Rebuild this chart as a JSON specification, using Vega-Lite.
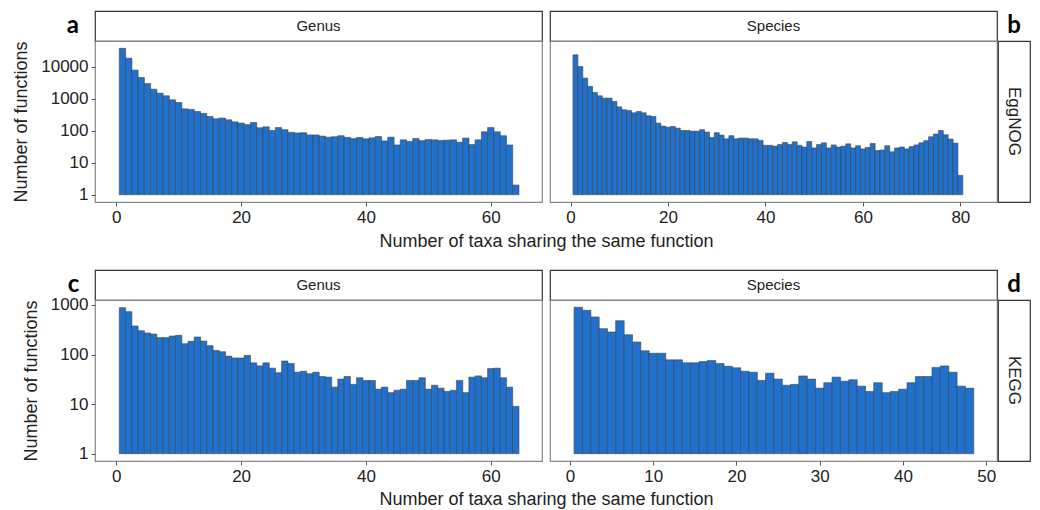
{
  "$schema": "https://vega.github.io/schema/vega-lite/v6.json",
  "padding": {"left": 12, "top": 10, "right": 5, "bottom": 5},
  "background": "white",
  "datasets": {
    "eg_genus": [
      {"n":1,"count":38000},{"n":2,"count":18700},{"n":3,"count":7900},{"n":4,"count":4640},{"n":5,"count":3000},{"n":6,"count":2000},{"n":7,"count":1500},{"n":8,"count":1240},{"n":9,"count":930},{"n":10,"count":765},
      {"n":11,"count":485},{"n":12,"count":465},{"n":13,"count":400},{"n":14,"count":350},{"n":15,"count":280},{"n":16,"count":237},{"n":17,"count":250},{"n":18,"count":220},{"n":19,"count":190},{"n":20,"count":174},
      {"n":21,"count":155},{"n":22,"count":181},{"n":23,"count":124},{"n":24,"count":133},{"n":25,"count":102},{"n":26,"count":126},{"n":27,"count":108},{"n":28,"count":89},{"n":29,"count":85},{"n":30,"count":87},
      {"n":31,"count":74},{"n":32,"count":74},{"n":33,"count":68},{"n":34,"count":63},{"n":35,"count":65},{"n":36,"count":70},{"n":37,"count":62},{"n":38,"count":57},{"n":39,"count":62},{"n":40,"count":56},
      {"n":41,"count":60},{"n":42,"count":66},{"n":43,"count":48},{"n":44,"count":63},{"n":45,"count":36},{"n":46,"count":52},{"n":47,"count":46},{"n":48,"count":57},{"n":49,"count":49},{"n":50,"count":53},
      {"n":51,"count":52},{"n":52,"count":50},{"n":53,"count":51},{"n":54,"count":52},{"n":55,"count":44},{"n":56,"count":59},{"n":57,"count":37},{"n":58,"count":52},{"n":59,"count":93},{"n":60,"count":126},
      {"n":61,"count":93},{"n":62,"count":70},{"n":63,"count":36},{"n":64,"count":2}
    ],
    "eg_species": [
      {"n":1,"count":23700},{"n":2,"count":10200},{"n":3,"count":4450},{"n":4,"count":2430},{"n":5,"count":1580},{"n":6,"count":1240},{"n":7,"count":1050},{"n":8,"count":1050},{"n":9,"count":825},{"n":10,"count":560},
      {"n":11,"count":454},{"n":12,"count":430},{"n":13,"count":365},{"n":14,"count":400},{"n":15,"count":365},{"n":16,"count":295},{"n":17,"count":280},{"n":18,"count":174},{"n":19,"count":140},{"n":20,"count":130},
      {"n":21,"count":136},{"n":22,"count":121},{"n":23,"count":102},{"n":24,"count":102},{"n":25,"count":97},{"n":26,"count":97},{"n":27,"count":108},{"n":28,"count":91},{"n":29,"count":62},{"n":30,"count":87},
      {"n":31,"count":73},{"n":32,"count":56},{"n":33,"count":70},{"n":34,"count":56},{"n":35,"count":59},{"n":36,"count":59},{"n":37,"count":56},{"n":38,"count":56},{"n":39,"count":50},{"n":40,"count":35},
      {"n":41,"count":35},{"n":42,"count":33},{"n":43,"count":37},{"n":44,"count":43},{"n":45,"count":37},{"n":46,"count":45},{"n":47,"count":35},{"n":48,"count":31},{"n":49,"count":46},{"n":50,"count":29},
      {"n":51,"count":37},{"n":52,"count":42},{"n":53,"count":29},{"n":54,"count":36},{"n":55,"count":31},{"n":56,"count":33},{"n":57,"count":39},{"n":58,"count":29},{"n":59,"count":34},{"n":60,"count":27},
      {"n":61,"count":30},{"n":62,"count":40},{"n":63,"count":24},{"n":64,"count":25},{"n":65,"count":34},{"n":66,"count":22},{"n":67,"count":29},{"n":68,"count":31},{"n":69,"count":27},{"n":70,"count":32},
      {"n":71,"count":36},{"n":72,"count":42},{"n":73,"count":49},{"n":74,"count":65},{"n":75,"count":79},{"n":76,"count":102},{"n":77,"count":75},{"n":78,"count":55},{"n":79,"count":41},{"n":80,"count":4}
    ],
    "kegg_genus": [
      {"n":1,"count":881},{"n":2,"count":733},{"n":3,"count":377},{"n":4,"count":302},{"n":5,"count":272},{"n":6,"count":259},{"n":7,"count":219},{"n":8,"count":219},{"n":9,"count":236},{"n":10,"count":244},
      {"n":11,"count":165},{"n":12,"count":185},{"n":13,"count":226},{"n":14,"count":187},{"n":15,"count":151},{"n":16,"count":121},{"n":17,"count":114},{"n":18,"count":93},{"n":19,"count":85},{"n":20,"count":85},
      {"n":21,"count":96},{"n":22,"count":68},{"n":23,"count":59},{"n":24,"count":68},{"n":25,"count":53},{"n":26,"count":43},{"n":27,"count":74},{"n":28,"count":66},{"n":29,"count":44},{"n":30,"count":46},
      {"n":31,"count":41},{"n":32,"count":44},{"n":33,"count":36},{"n":34,"count":35},{"n":35,"count":22},{"n":36,"count":32},{"n":37,"count":36},{"n":38,"count":25},{"n":39,"count":34},{"n":40,"count":30},
      {"n":41,"count":30},{"n":42,"count":20},{"n":43,"count":22},{"n":44,"count":17},{"n":45,"count":19},{"n":46,"count":20},{"n":47,"count":30},{"n":48,"count":30},{"n":49,"count":34},{"n":50,"count":20},
      {"n":51,"count":24},{"n":52,"count":21},{"n":53,"count":18},{"n":54,"count":19},{"n":55,"count":30},{"n":56,"count":17},{"n":57,"count":35},{"n":58,"count":37},{"n":59,"count":34},{"n":60,"count":52},
      {"n":61,"count":53},{"n":62,"count":34},{"n":63,"count":22},{"n":64,"count":9}
    ],
    "kegg_species": [
      {"n":1,"count":898},{"n":2,"count":781},{"n":3,"count":573},{"n":4,"count":333},{"n":5,"count":285},{"n":6,"count":482},{"n":7,"count":251},{"n":8,"count":179},{"n":9,"count":119},{"n":10,"count":106},
      {"n":11,"count":106},{"n":12,"count":78},{"n":13,"count":78},{"n":14,"count":68},{"n":15,"count":68},{"n":16,"count":72},{"n":17,"count":76},{"n":18,"count":66},{"n":19,"count":58},{"n":20,"count":54},
      {"n":21,"count":46},{"n":22,"count":44},{"n":23,"count":30},{"n":24,"count":42},{"n":25,"count":32},{"n":26,"count":24},{"n":27,"count":25},{"n":28,"count":37},{"n":29,"count":32},{"n":30,"count":21},
      {"n":31,"count":27},{"n":32,"count":35},{"n":33,"count":29},{"n":34,"count":31},{"n":35,"count":23},{"n":36,"count":18},{"n":37,"count":27},{"n":38,"count":17},{"n":39,"count":18},{"n":40,"count":20},
      {"n":41,"count":27},{"n":42,"count":36},{"n":43,"count":36},{"n":44,"count":55},{"n":45,"count":59},{"n":46,"count":44},{"n":47,"count":23},{"n":48,"count":21}
    ],
    "blank": [{"s": ""}]
  },
  "columns": 4,
  "align": "each",
  "bounds": "flush",
  "spacing": {"row": 0, "column": 1},
  "concat": [
    {
      "width": 447, "height": 30,
      "view": {"stroke": "#333", "strokeWidth": 1.2, "fill": "white"},
      "title": {"text": "a", "orient": "left", "angle": 0, "anchor": "middle", "align": "right", "baseline": "middle", "font": "Lato", "fontWeight": "bold", "fontSize": 24, "color": "#000", "offset": 4},
      "data": {"values": [{"s": "Genus"}]},
      "mark": {"type": "text", "font": "Liberation Sans", "fontSize": 15, "color": "#222"},
      "encoding": {"text": {"field": "s"}}
    },
    {"width": 6, "height": 30, "data": {"name": "blank"}, "mark": {"type": "text"}, "encoding": {"text": {"field": "s"}}},
    {
      "width": 447, "height": 30,
      "view": {"stroke": "#333", "strokeWidth": 1.2, "fill": "white"},
      "data": {"values": [{"s": "Species"}]},
      "mark": {"type": "text", "font": "Liberation Sans", "fontSize": 15, "color": "#222"},
      "encoding": {"text": {"field": "s"}}
    },
    {
      "width": 32, "height": 30,
      "data": {"values": [{"s": "b"}]},
      "mark": {"type": "text", "font": "Lato", "fontWeight": "bold", "fontSize": 24, "color": "#000"},
      "encoding": {"text": {"field": "s"}}
    },
    {
      "width": 447, "height": 161,
      "view": {"stroke": "#888", "strokeWidth": 1.2},
      "data": {"name": "eg_genus"},
      "mark": {"type": "bar", "width": 6.39, "color": "#1f71cd", "stroke": "#444", "strokeWidth": 0.6},
      "encoding": {
        "x": {"field": "n", "type": "quantitative", "scale": {"domain": [-2.6, 67.4], "nice": false, "zero": false}, "axis": {"values": [0, 20, 40, 60], "title": "Number of taxa sharing the same function", "titleX": 451, "titleY": 39, "titleBaseline": "middle", "titleAlign": "center"}},
        "y": {"field": "count", "type": "quantitative", "scale": {"type": "log", "domain": [0.59, 64400], "nice": false}, "axis": {"values": [1, 10, 100, 1000, 10000], "format": "d", "title": "Number of functions", "titlePadding": 10}},
        "y2": {"datum": 1}
      }
    },
    {"width": 6, "height": 161, "data": {"name": "blank"}, "mark": {"type": "text"}, "encoding": {"text": {"field": "s"}}},
    {
      "width": 447, "height": 161,
      "view": {"stroke": "#888", "strokeWidth": 1.2},
      "data": {"name": "eg_species"},
      "mark": {"type": "bar", "width": 4.98, "color": "#1f71cd", "stroke": "#444", "strokeWidth": 0.6},
      "encoding": {
        "x": {"field": "n", "type": "quantitative", "scale": {"domain": [-3.2, 86.5], "nice": false, "zero": false}, "axis": {"values": [0, 20, 40, 60, 80], "title": null}},
        "y": {"field": "count", "type": "quantitative", "scale": {"type": "log", "domain": [0.59, 64400], "nice": false}, "axis": null},
        "y2": {"datum": 1}
      }
    },
    {
      "width": 32, "height": 161,
      "view": {"stroke": "#333", "strokeWidth": 1.2, "fill": "white"},
      "data": {"values": [{"s": "EggNOG"}]},
      "mark": {"type": "text", "angle": 90, "font": "Liberation Sans", "fontSize": 17, "color": "#222"},
      "encoding": {"text": {"field": "s"}}
    },
    {"width": 447, "height": 68, "data": {"name": "blank"}, "mark": {"type": "text"}, "encoding": {"text": {"field": "s"}}},
    {"width": 6, "height": 68, "data": {"name": "blank"}, "mark": {"type": "text"}, "encoding": {"text": {"field": "s"}}},
    {"width": 447, "height": 68, "data": {"name": "blank"}, "mark": {"type": "text"}, "encoding": {"text": {"field": "s"}}},
    {"width": 32, "height": 68, "data": {"name": "blank"}, "mark": {"type": "text"}, "encoding": {"text": {"field": "s"}}},
    {
      "width": 447, "height": 30,
      "view": {"stroke": "#333", "strokeWidth": 1.2, "fill": "white"},
      "title": {"text": "c", "orient": "left", "angle": 0, "anchor": "middle", "align": "right", "baseline": "middle", "font": "Lato", "fontWeight": "bold", "fontSize": 24, "color": "#000", "offset": 4},
      "data": {"values": [{"s": "Genus"}]},
      "mark": {"type": "text", "font": "Liberation Sans", "fontSize": 15, "color": "#222"},
      "encoding": {"text": {"field": "s"}}
    },
    {"width": 6, "height": 30, "data": {"name": "blank"}, "mark": {"type": "text"}, "encoding": {"text": {"field": "s"}}},
    {
      "width": 447, "height": 30,
      "view": {"stroke": "#333", "strokeWidth": 1.2, "fill": "white"},
      "data": {"values": [{"s": "Species"}]},
      "mark": {"type": "text", "font": "Liberation Sans", "fontSize": 15, "color": "#222"},
      "encoding": {"text": {"field": "s"}}
    },
    {
      "width": 32, "height": 30,
      "data": {"values": [{"s": "d"}]},
      "mark": {"type": "text", "font": "Lato", "fontWeight": "bold", "fontSize": 24, "color": "#000"},
      "encoding": {"text": {"field": "s"}}
    },
    {
      "width": 447, "height": 161,
      "view": {"stroke": "#888", "strokeWidth": 1.2},
      "data": {"name": "kegg_genus"},
      "mark": {"type": "bar", "width": 6.39, "color": "#1f71cd", "stroke": "#444", "strokeWidth": 0.6},
      "encoding": {
        "x": {"field": "n", "type": "quantitative", "scale": {"domain": [-2.6, 67.4], "nice": false, "zero": false}, "axis": {"values": [0, 20, 40, 60], "title": "Number of taxa sharing the same function", "titleX": 451, "titleY": 38, "titleBaseline": "middle", "titleAlign": "center"}},
        "y": {"field": "count", "type": "quantitative", "scale": {"type": "log", "domain": [0.711, 1259], "nice": false}, "axis": {"values": [1, 10, 100, 1000], "format": "d", "title": "Number of functions", "titlePadding": 10}},
        "y2": {"datum": 1}
      }
    },
    {"width": 6, "height": 161, "data": {"name": "blank"}, "mark": {"type": "text"}, "encoding": {"text": {"field": "s"}}},
    {
      "width": 447, "height": 161,
      "view": {"stroke": "#888", "strokeWidth": 1.2},
      "data": {"name": "kegg_species"},
      "mark": {"type": "bar", "width": 8.51, "color": "#1f71cd", "stroke": "#444", "strokeWidth": 0.6},
      "encoding": {
        "x": {"field": "n", "type": "quantitative", "scale": {"domain": [-1.8, 50.7], "nice": false, "zero": false}, "axis": {"values": [0, 10, 20, 30, 40, 50], "title": null}},
        "y": {"field": "count", "type": "quantitative", "scale": {"type": "log", "domain": [0.711, 1259], "nice": false}, "axis": null},
        "y2": {"datum": 1}
      }
    },
    {
      "width": 32, "height": 161,
      "view": {"stroke": "#333", "strokeWidth": 1.2, "fill": "white"},
      "data": {"values": [{"s": "KEGG"}]},
      "mark": {"type": "text", "angle": 90, "font": "Liberation Sans", "fontSize": 17, "color": "#222"},
      "encoding": {"text": {"field": "s"}}
    }
  ],
  "config": {
    "view": {"stroke": null},
    "axis": {
      "labelFont": "Liberation Sans", "labelFontSize": 17, "labelColor": "#222",
      "titleFont": "Liberation Sans", "titleFontSize": 18, "titleFontWeight": "normal", "titleColor": "#222",
      "tickColor": "#555", "tickSize": 4, "tickWidth": 1, "labelPadding": 3,
      "domain": false, "grid": false
    }
  }
}
